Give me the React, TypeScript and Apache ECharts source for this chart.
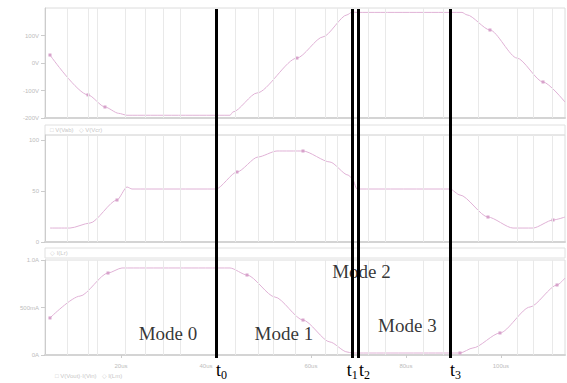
import React, { useEffect, useRef } from "react";
import * as echarts from "echarts";

const X_MIN = 4;
const X_MAX = 113.5;
const xTickValues = [20, 40, 60, 80, 100];
const xTickLabels = ["20us", "40us", "60us", "80us", "100us"];
const gridLineTimes = [8.6, 13.1, 15.0, 20.9, 25.1, 28.9, 32.4, 44.0, 48.9, 52.0, 56.6, 63.0, 65.5, 72.0, 75.6, 83.6, 87.8, 95.2, 103.4, 106.8, 110.8];

const p1Time = [5.05, 13.05, 16.63, 19.5, 21.27, 42.96, 43.59, 48.64, 57.06, 62.54, 67.59, 68.64, 69.7, 91.81, 92.86, 97.7, 103.39, 108.87, 113.5];
const p1Value = [29, -116, -160, -183, -190, -190, -178, -109, 18, 95, 175, 185, 184, 184, 175, 120, 18, -69, -142];
const p1Markers = [0, 1, 2, 8, 15, 17];
const p1TickValues = [-200, -100, 0, 100];
const p1TickLabels = ["-200V", "-100V", "0V", "100V"];

const p2Time = [5.05, 9.26, 13.48, 19.16, 21.27, 22.32, 40.0, 44.43, 48.85, 52.85, 58.33, 64.01, 67.8, 68.64, 69.7, 89.28, 91.39, 97.28, 102.55, 106.76, 110.98, 113.5];
const p2Value = [13.7, 13.7, 18.6, 41.2, 54, 52, 52, 68.7, 83.4, 89.3, 89.3, 78.5, 65.7, 62.8, 52, 52, 46.1, 24.5, 13.7, 13.7, 21.6, 24.5];
const p2Markers = [3, 7, 10, 17, 20];
const p2TickValues = [0, 50, 100];
const p2TickLabels = ["0", "50", "100"];

const p3Time = [5.05, 11.37, 17.27, 20.21, 42.96, 46.54, 52.43, 58.33, 64.01, 67.59, 68.64, 91.39, 94.12, 99.81, 106.13, 111.82, 113.5];
const p3Value = [39, 62, 86.3, 91.6, 91.6, 84.2, 61, 36.8, 13.7, 3.2, 2.1, 2.1, 7.4, 23.2, 50.5, 73.7, 81];
const p3Markers = [0, 2, 5, 7, 11, 13, 15];
const p3TickValues = [0, 50, 100];
const p3TickLabels = ["0A", "500mA", "1.0A"];

const modeTimes = [40.0, 68.8, 69.9, 89.3];
const modeSubs = ["0", "1", "2", "3"];
const modeNames = ["Mode 0", "Mode 1", "Mode 2", "Mode 3"];
const modeNameTime = [29.9, 54.3, 70.65, 80.3];
const modeNameLevel = [0.069, 0.069, 0.249, 0.092];

const SERIF = '"Liberation Serif", "Times New Roman", serif';
const PINK = "#e0b2d6";
const GRAYTEXT = "#bcbcbc";

export default function App() {
  const ref = useRef<HTMLDivElement>(null);
  useEffect(() => {
    if (!ref.current) return;
    const chart = echarts.init(ref.current, undefined, { renderer: "svg" });
    const grids = [
      { left: 45, right: 2, top: 8, height: 110 },
      { left: 45, right: 2, top: 135, height: 107 },
      { left: 45, right: 2, top: 260, height: 95 },
      { left: 45, right: 2, top: 9, height: 349 },
    ];
    const gridMark = {
      silent: true,
      symbol: "none",
      label: { show: false },
      lineStyle: { color: "#e9e9e9", width: 1, type: "solid" },
      data: gridLineTimes.map((t) => ({ xAxis: t })),
    };
    const yTickVals = [p1TickValues, p2TickValues, p3TickValues];
    const yTickLabs = [p1TickLabels, p2TickLabels, p3TickLabels];
    const yRanges = [
      [-200, 200],
      [0, 105],
      [0, 100],
    ];
    const xAxes: any[] = [0, 1, 2].map((i) => ({
      type: "value",
      gridIndex: i,
      min: X_MIN,
      max: X_MAX,
      axisLine: { show: true, onZero: false, lineStyle: { color: "#d4d4d4", width: 2 } },
      axisTick: i === 2 ? { show: true, customValues: xTickValues, length: 3, lineStyle: { color: "#ccc" } } : { show: false },
      axisLabel:
        i === 2
          ? {
              show: true,
              customValues: xTickValues,
              fontSize: 6,
              color: GRAYTEXT,
              margin: 8,
              rich: { l: { fontSize: 6, color: GRAYTEXT, padding: [0, 20, 0, 0] } },
              formatter: (v: number) => {
                const s = xTickLabels[xTickValues.indexOf(Math.round(v))] ?? "";
                return Math.round(v) === 40 ? `{l|${s}}` : s;
              },
            }
          : { show: false },
      splitLine: { show: false },
    }));
    xAxes.push({ type: "value", gridIndex: 3, min: X_MIN, max: X_MAX, show: false });
    const yAxes: any[] = [0, 1, 2].map((i) => ({
      type: "value",
      gridIndex: i,
      min: yRanges[i][0],
      max: yRanges[i][1],
      axisLine: { show: true, lineStyle: { color: "#cccccc", width: 1 } },
      axisTick: { show: true, customValues: yTickVals[i], length: 4, lineStyle: { color: "#cccccc" } },
      axisLabel: {
        show: true,
        customValues: yTickVals[i],
        fontSize: 6,
        color: GRAYTEXT,
        margin: 6,
        formatter: (v: number) => yTickLabs[i][yTickVals[i].indexOf(Math.round(v))] ?? "",
      },
      splitLine: { show: false },
    }));
    yAxes.push({ type: "value", gridIndex: 3, min: 0, max: 1, show: false });

    const curve = (i: number, t: number[], v: number[], marks: number[]) => ({
      type: "line",
      xAxisIndex: i,
      yAxisIndex: i,
      data: t.map((tt, k) => ({ value: [tt, v[k]], symbolSize: marks.includes(k) ? 3 : 0 })),
      smooth: 0.25,
      smoothMonotone: "x",
      symbol: "rect",
      showSymbol: true,
      lineStyle: { color: PINK, width: 1 },
      itemStyle: { color: "#d7a2cb" },
      markLine: gridMark,
      z: 2,
    });

    const titleStyle = { fontSize: 6, color: "#c8c8c8", fontWeight: "normal" };
    const option: any = {
      animation: false,
      backgroundColor: "#ffffff",
      title: [
        { text: "□ V(Vab)   ◇ V(Vcr)", left: 50, top: 127, padding: 0, textStyle: titleStyle },
        { text: "◇ I(Lr)", left: 50, top: 250, padding: 0, textStyle: titleStyle },
        { text: "□ V(Vout)·I(Vin)   ◇ I(Lm)", left: 55, top: 373, padding: 0, textStyle: titleStyle },
      ],
      grid: grids.map((g, i) => ({
        ...g,
        show: i < 3,
        borderColor: "#dcdcdc",
        borderWidth: 1,
        backgroundColor: "transparent",
      })),
      xAxis: xAxes,
      yAxis: yAxes,
      graphic: [
        { type: "rect", shape: { x: 45, y: 125, width: 520, height: 10 }, style: { fill: "none", stroke: "#e0e0e0", lineWidth: 1 }, silent: true },
        { type: "rect", shape: { x: 45, y: 248, width: 520, height: 10 }, style: { fill: "none", stroke: "#e0e0e0", lineWidth: 1 }, silent: true },
      ],
      series: [
        curve(0, p1Time, p1Value, p1Markers),
        curve(1, p2Time, p2Value, p2Markers),
        curve(2, p3Time, p3Value, p3Markers),
        {
          type: "scatter",
          xAxisIndex: 3,
          yAxisIndex: 3,
          symbolSize: 0,
          silent: true,
          z: 5,
          data: modeNames.map((n, i) => ({ value: [modeNameTime[i], modeNameLevel[i]], name: n })),
          label: {
            show: true,
            position: "inside",
            formatter: (p: any) => p.name,
            fontFamily: SERIF,
            fontSize: 19,
            color: "#000",
          },
        },
        {
          type: "scatter",
          xAxisIndex: 3,
          yAxisIndex: 3,
          symbolSize: 0,
          silent: true,
          z: 10,
          data: [[modeTimes[0], 0.5]],
          markLine: {
            silent: true,
            symbol: "none",
            z: 10,
            lineStyle: { color: "#000", width: 3, type: "solid" },
            label: {
              show: true,
              position: "start",
              distance: 3,
              align: "left",
              rich: {
                t: { fontFamily: SERIF, fontSize: 18, color: "#000", lineHeight: 18 },
                s: { fontFamily: SERIF, fontSize: 12, color: "#000", lineHeight: 18, padding: [10, 0, 0, 0] },
              },
            },
            data: modeTimes.map((t, i) => ({
              xAxis: t,
              label: { formatter: `{t|t}{s|${modeSubs[i]}}`, offset: [i === 1 ? -6 : i === 2 ? 1 : 0, 0] },
            })),
          },
        },
      ],
    };
    chart.setOption(option);
    return () => chart.dispose();
  }, []);
  return <div ref={ref} style={{ position: "fixed", left: 0, top: 0, width: 567, height: 383 }} />;
}
